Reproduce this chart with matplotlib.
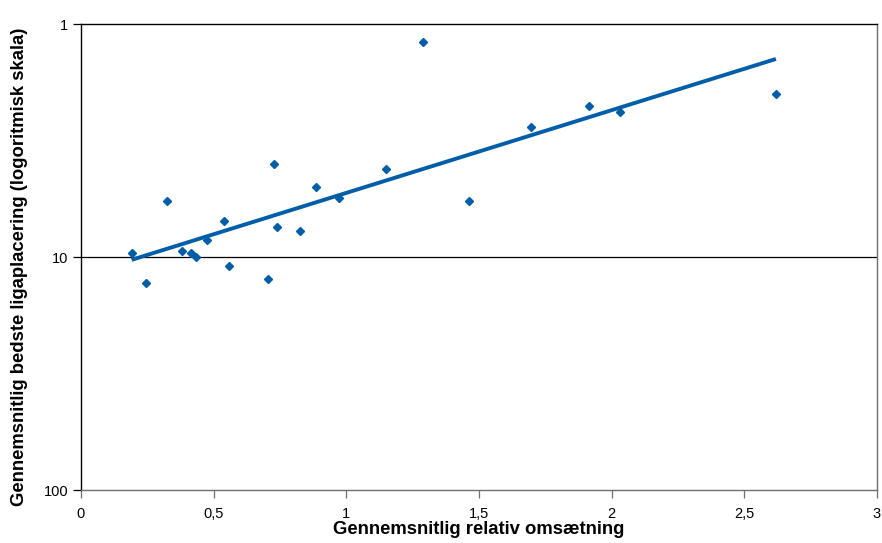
import numpy as np
import matplotlib
matplotlib.use('Agg')
import matplotlib.pyplot as plt
from matplotlib.ticker import FixedLocator, FuncFormatter, NullLocator

plt.rcParams['font.family'] = ['Liberation Sans', 'DejaVu Sans']

# average relative turnover (x) and average best league placement (y)
relative_turnover = [0.191, 0.246, 0.325, 0.381, 0.415, 0.433, 0.474, 0.538, 0.559, 0.705, 0.727,
                     0.738, 0.824, 0.886, 0.971, 1.150, 1.288, 1.463, 1.696, 1.915, 2.030, 2.619]
league_placement = [9.58, 12.97, 5.77, 9.45, 9.64, 9.97, 8.48, 6.98, 10.93, 12.43, 3.99,
                    7.41, 7.73, 4.99, 5.58, 4.20, 1.195, 5.75, 2.77, 2.24, 2.39, 1.99]

x_ticks = [0, 0.5, 1, 1.5, 2, 2.5, 3]
y_ticks = [1, 10, 100]

BLUE = '#005EA8'
GREY = '#707070'

fig = plt.figure(figsize=(8.82, 5.43), dpi=100)
ax = fig.add_axes([0.0918, 0.0976, 0.9025, 0.8582])

x = np.array(relative_turnover)
y = np.array(league_placement)

# exponential trend line (fit on log of placement)
b, a = np.polyfit(x, np.log(y), 1)
x_fit = np.array([x.min(), x.max()])
ax.plot(x_fit, np.exp(a + b * x_fit), color=BLUE, linewidth=2.8, solid_capstyle='butt', zorder=2)

ax.plot(x, y, linestyle='none', marker='D', markersize=4.5, color=BLUE, zorder=3)

ax.set_yscale('log')
ax.set_ylim(100, 1)
ax.set_xlim(0, 3)
ax.yaxis.set_major_locator(FixedLocator(y_ticks))
ax.yaxis.set_minor_locator(NullLocator())
ax.yaxis.set_major_formatter(FuncFormatter(lambda v, p: f'{v:g}'))
ax.xaxis.set_major_locator(FixedLocator(x_ticks))
ax.xaxis.set_major_formatter(FuncFormatter(lambda v, p: f'{v:g}'.replace('.', ',')))

ax.axhline(10, color='black', linewidth=0.9, zorder=1)

for spine in ax.spines.values():
    spine.set_linewidth(1.0)
ax.spines['bottom'].set_color(GREY)
ax.spines['right'].set_color(GREY)
ax.tick_params(axis='both', direction='out', length=6, width=0.9, labelsize=10.5)
ax.tick_params(axis='x', color=GREY, pad=6)
ax.tick_params(axis='y', pad=3)

ax.set_xlabel('Gennemsnitlig relativ omsætning', fontsize=13.3, fontweight='bold')
ax.set_ylabel('Gennemsnitlig bedste ligaplacering (logoritmisk skala)', fontsize=13.3,
              fontweight='bold')
ax.xaxis.set_label_coords(0.4994, -0.066)
ax.yaxis.set_label_coords(-0.066, 0.4785)

fig.savefig('out.png', dpi=100)
